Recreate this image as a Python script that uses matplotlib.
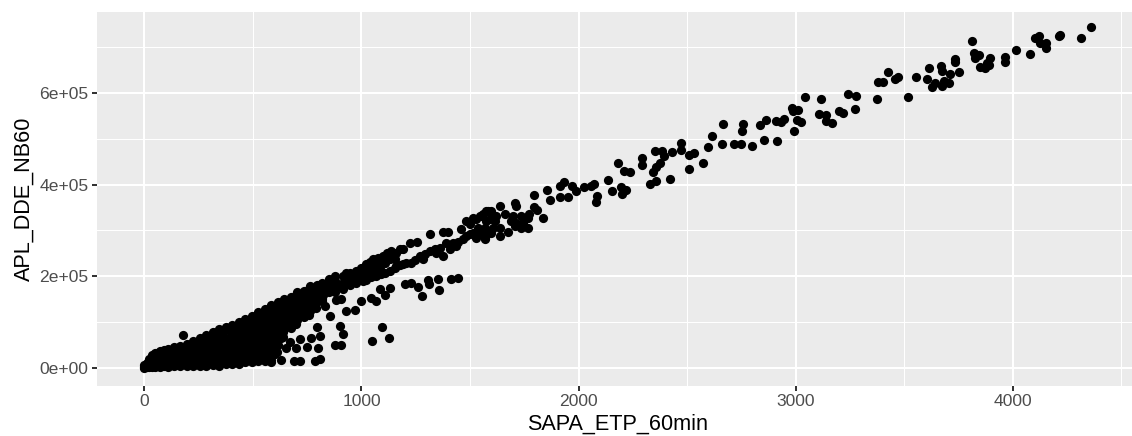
import matplotlib
matplotlib.use("Agg")
import matplotlib.pyplot as plt

plt.rcParams['font.family'] = ['Liberation Sans', 'DejaVu Sans']

x_ticks = [0, 1000, 2000, 3000, 4000]
x_minor = [500, 1500, 2500, 3500, 4500]
y_ticks = [0, 200000, 400000, 600000]
y_minor = [100000, 300000, 500000, 700000]
y_labels = ['0e+00', '2e+05', '4e+05', '6e+05']

# top end of the cloud, read point by point
top_x = [4360, 4316, 4219, 4211, 4119, 4104, 4127, 4153, 4155, 4081, 4017, 3963, 3963, 3894, 3882,
         3874, 3851, 3889, 3846, 3820, 3828, 3813, 3753, 3736, 3732, 3713, 3675, 3667, 3613, 3606,
         3705, 3683, 3672, 3640, 3629, 3555, 3515, 3472, 3457, 3426, 3403, 3379, 3373, 3276, 3242,
         3275, 3219, 3201, 3169, 3141, 3141, 3108, 3118, 3043, 3023, 3008, 3011, 2985, 2988, 2990]
top_y = [744300, 721600, 727500, 725300, 726000, 720200, 710600, 709200, 698200, 685000, 695300,
         679900, 667400, 676200, 665200, 654200, 657900, 661600, 683500, 688700, 677700, 715000,
         646900, 674700, 668900, 642500, 649100, 660100, 655700, 630800, 622000, 626400, 616100,
         622000, 613900, 634500, 592700, 634500, 630800, 646900, 624200, 623500, 587600, 594900,
         598600, 565600, 556800, 561900, 535600, 551700, 539900, 553900, 588300, 591200, 537000,
         542100, 562700, 568500, 560500, 516500]

# middle stretch
mid_x = [2945, 2931, 2908, 2914, 2862, 2836, 2856, 2798, 2759, 2755, 2750, 2716, 2661, 2663, 2614,
         2595, 2571, 2532, 2510, 2508, 2474, 2473, 2431, 2421, 2395, 2385, 2352, 2376, 2356, 2341,
         2356, 2329, 2292, 2292, 2238, 2209, 2183, 2218, 2195, 2198, 2152, 2134, 2073, 2057, 2025,
         2083, 2082, 1987, 1970, 1932, 1916, 1951, 1913, 1867, 1856, 1794, 1838, 1807, 1797, 1774,
         1758, 1769, 1735, 1705, 1689, 1735, 1712, 1705, 1659, 1640, 1674, 1640, 1636, 1613, 1597,
         1574, 1551, 1605, 1582, 1567, 1551, 1590, 1567, 1620, 1697, 1743, 1712, 1766, 1574, 1597]
mid_y = [544400, 537100, 539300, 496000, 542200, 529700, 496800, 484300, 531900, 516600, 488000,
         488000, 488000, 532700, 507000, 481400, 447700, 468900, 466000, 435200, 490900, 475500,
         471100, 413300, 462300, 474100, 472600, 447000, 439600, 428600, 407400, 400800, 458000,
         443300, 427200, 430800, 447700, 388300, 395700, 379500, 386900, 410300, 401500, 396400,
         395700, 375900, 362700, 385400, 396400, 406700, 396400, 372200, 373000, 367100, 387600,
         376600, 328300, 345100, 351700, 335600, 328300, 306300, 306300, 310000, 321000, 331900,
         353900, 359800, 335600, 353900, 296800, 288000, 306300, 321000, 343000, 343000, 332000,
         306300, 299000, 280700, 291600, 324600, 306300, 332000, 332000, 317300, 317300, 328300,
         321000, 295300]

# the two streaks around 1000-1600
band_x = [869, 930, 976, 999, 1022, 1053, 1068, 1099, 1130, 1137, 1191, 1191, 1229, 1222, 1255,
          1268, 1314, 1318, 1375, 1398, 1375, 1406, 1444, 1459, 1482, 1482, 1513, 1528, 1536, 1544,
          1567, 1582, 1283, 1084, 1038, 946, 900, 1160, 1019, 1038, 1076, 1117, 1160, 1176, 1045,
          1091, 1107, 1153, 1176, 1206, 1245, 1291, 1337, 1344, 1360, 1390, 1421, 1436, 1467, 1498,
          1551, 1582, 1498, 1528, 1559, 1513, 999, 1030, 1053, 1084, 1107, 1130, 1153]
band_y = [189000, 207000, 193000, 218400, 192800, 236700, 200000, 244000, 211000, 255000, 226000,
          258700, 229400, 273400, 274800, 244000, 255000, 292400, 297500, 296800, 244000, 258700,
          274800, 304000, 288000, 321000, 328000, 284000, 306000, 332000, 284000, 343000, 237000,
          215000, 207500, 185000, 178000, 222000, 225700, 231000, 240400, 250000, 251400, 260000,
          198600, 203800, 207400, 218400, 223500, 229400, 235300, 247700, 258700, 251400, 262400,
          273400, 273400, 266000, 280700, 291700, 295300, 295300, 313700, 324600, 335600, 295300,
          203800, 218400, 214800, 225700, 229400, 236700, 236700]

# lower branch and stray points under the main cloud
low_x = [808, 785, 716, 688, 631, 585, 716, 670, 700, 654, 750, 800, 769, 811, 796, 877, 907, 915,
         903, 1050, 1127, 1096, 176, 831, 854, 884, 907, 930, 969, 999, 1045, 1068, 1084, 1107,
         1130, 1199, 1229, 1260, 1280, 1306, 1311, 1352, 1355, 1413, 1444]
low_y = [18400, 14800, 15500, 14800, 17000, 11800, 62400, 57200, 42600, 42600, 46200, 42600, 66000,
         69700, 88800, 50600, 50600, 73400, 90200, 58000, 64600, 88800, 71900, 134000, 112000,
         149000, 150000, 123000, 127000, 145000, 152500, 145000, 171000, 160000, 174000, 182000,
         185000, 177000, 157600, 192800, 184000, 194000, 169000, 194000, 196000]

# solid wedge near the origin, sampled by eye
dense_x = [0, 0, 0, 10, 10, 10, 20, 20, 20, 20, 35, 35, 35, 35, 50, 50, 50, 50,
           70, 70, 70, 70, 90, 90, 90, 90, 110, 110, 110, 110, 135, 135, 135, 135,
           165, 165, 165, 165, 195, 195, 195, 195, 225, 225, 225, 225,
           255, 255, 255, 255, 255, 285, 285, 285, 285, 285, 315, 315, 315, 315, 315,
           345, 345, 345, 345, 345, 375, 375, 375, 375, 375, 405, 405, 405, 405, 405,
           435, 435, 435, 435, 435, 465, 465, 465, 465, 465, 495, 495, 495, 495, 495,
           525, 525, 525, 525, 525, 555, 555, 555, 555, 555, 585, 585, 585, 585, 585,
           615, 615, 615, 615, 645, 645, 645, 675, 675, 675, 675, 705, 705, 705,
           735, 735, 735, 735, 735, 765, 765, 765, 795, 795, 795, 825, 825, 855]
dense_y = [0, 2000, 5000, 1000, 6000, 11000, 2000, 8000, 14000, 20000, 1000, 9000, 18000, 27000,
           2000, 12000, 22000, 32000, 2000, 13000, 24000, 37000, 3000, 14000, 26000, 38000,
           2000, 14000, 28000, 42000, 3000, 16000, 30000, 45000, 3000, 17000, 32000, 48000,
           4000, 18000, 34000, 52000, 3000, 18000, 36000, 58000,
           4000, 20000, 38000, 54000, 64000, 3000, 20000, 40000, 58000, 72000,
           5000, 22000, 42000, 60000, 78000, 4000, 24000, 44000, 64000, 84000,
           8000, 24000, 46000, 66000, 88000, 8000, 28000, 50000, 72000, 94000,
           9000, 30000, 52000, 76000, 100000, 12000, 32000, 56000, 82000, 106000,
           12000, 34000, 60000, 86000, 114000, 14000, 36000, 64000, 92000, 122000,
           14000, 40000, 68000, 98000, 128000, 16000, 44000, 74000, 104000, 137000,
           50000, 80000, 112000, 144000, 85000, 118000, 150000, 86000, 105000, 125000, 155000,
           105000, 135000, 165000, 110000, 125000, 140000, 155000, 168000, 125000, 155000, 178000,
           150000, 165000, 180000, 160000, 178000, 190000]

# second pass over the wedge, between the columns above
fill_x = [60, 60, 60, 80, 80, 80, 100, 100, 100, 122, 122, 122,
          150, 150, 150, 180, 180, 180, 210, 210, 210, 240, 240, 240,
          270, 270, 270, 270, 300, 300, 300, 300, 330, 330, 330, 330, 360, 360, 360, 360,
          390, 390, 390, 390, 420, 420, 420, 420, 450, 450, 450, 450, 480, 480, 480, 480,
          510, 510, 510, 510, 540, 540, 540, 540, 570, 570, 570, 570, 600, 600, 600, 600,
          630, 630, 630, 660, 660, 690, 690, 720, 720, 750, 750, 780, 780, 810, 810]
fill_y = [7000, 17000, 27000, 8000, 20000, 31000, 8000, 20000, 33000, 9000, 22000, 36000,
          10000, 24000, 38000, 10000, 25000, 40000, 10000, 26000, 44000, 10000, 28000, 46000,
          11000, 29000, 47000, 62000, 12000, 31000, 49000, 66000, 13000, 33000, 52000, 72000,
          14000, 35000, 55000, 76000, 16000, 38000, 60000, 82000, 18000, 40000, 62000, 86000,
          20000, 44000, 68000, 92000, 22000, 46000, 72000, 98000, 24000, 50000, 76000, 104000,
          26000, 52000, 80000, 112000, 28000, 56000, 86000, 116000, 30000, 60000, 90000, 124000,
          65000, 98000, 130000, 100000, 135000, 115000, 145000, 120000, 150000, 135000, 165000,
          140000, 170000, 155000, 175000]

# third pass, the thick part where wedge runs into the streaks
thick_x = [520, 520, 520, 520, 520, 520, 520, 520, 550, 550, 550, 550, 550, 550, 550, 550,
           580, 580, 580, 580, 580, 580, 580, 580, 610, 610, 610, 610, 610, 610, 610,
           640, 640, 640, 640, 640, 640, 670, 670, 670, 670, 700, 700, 700, 700, 700,
           730, 730, 730, 730, 760, 760, 760, 760, 760, 790, 790, 790, 790,
           820, 820, 820, 820, 850, 850, 850, 850, 880, 880, 880, 880,
           915, 915, 915, 945, 945, 945, 975, 975, 975, 1005, 1005, 1005,
           1035, 1035, 1035, 1065, 1065, 1065]
thick_y = [18000, 28000, 42000, 58000, 70000, 84000, 98000, 112000,
           20000, 32000, 48000, 62000, 76000, 90000, 104000, 118000,
           24000, 36000, 52000, 66000, 82000, 96000, 110000, 124000,
           34000, 58000, 72000, 90000, 104000, 120000, 134000,
           68000, 78000, 96000, 108000, 128000, 142000, 95000, 115000, 135000, 145000,
           95000, 110000, 125000, 150000, 158000, 118000, 132000, 148000, 160000,
           115000, 130000, 145000, 165000, 172000, 130000, 142000, 158000, 172000,
           145000, 150000, 165000, 185000, 165000, 175000, 185000, 195000,
           165000, 178000, 190000, 200000, 172000, 185000, 200000, 180000, 192000, 208000,
           185000, 200000, 212000, 190000, 200000, 212000, 200000, 212000, 225000,
           205000, 222000, 232000]

fig = plt.figure(figsize=(11.32, 4.36), dpi=100)
ax = fig.add_axes([97 / 1132, 1 - 385.7 / 436, (1132 - 97) / 1132, (385.7 - 12) / 436])
ax.set_facecolor('#EBEBEB')
for spine in ax.spines.values():
    spine.set_visible(False)

ax.set_xlim(-218, 4549)
ax.set_ylim(-39300, 777500)
ax.set_xticks(x_ticks)
ax.set_xticks(x_minor, minor=True)
ax.set_yticks(y_ticks)
ax.set_yticks(y_minor, minor=True)
ax.set_yticklabels(y_labels)

ax.grid(True, which='major', color='white', linewidth=1.45)
ax.grid(True, which='minor', color='white', linewidth=0.72)
ax.set_axisbelow(True)
ax.tick_params(which='major', length=3.8, width=1.45, color='#333333', labelcolor='#4D4D4D',
               labelsize=12.6, pad=2.5)
ax.tick_params(which='minor', length=0)

for xs, ys in [(dense_x, dense_y), (fill_x, fill_y), (thick_x, thick_y), (low_x, low_y),
               (band_x, band_y), (mid_x, mid_y), (top_x, top_y)]:
    ax.scatter(xs, ys, s=44, color='black', linewidths=0)

ax.set_xlabel('SAPA_ETP_60min', fontsize=15.6, labelpad=3, x=(618 - 97) / 1035)
ax.set_ylabel('APL_DDE_NB60', fontsize=15.6, labelpad=3.5)

plt.savefig('out.png', dpi=100)
